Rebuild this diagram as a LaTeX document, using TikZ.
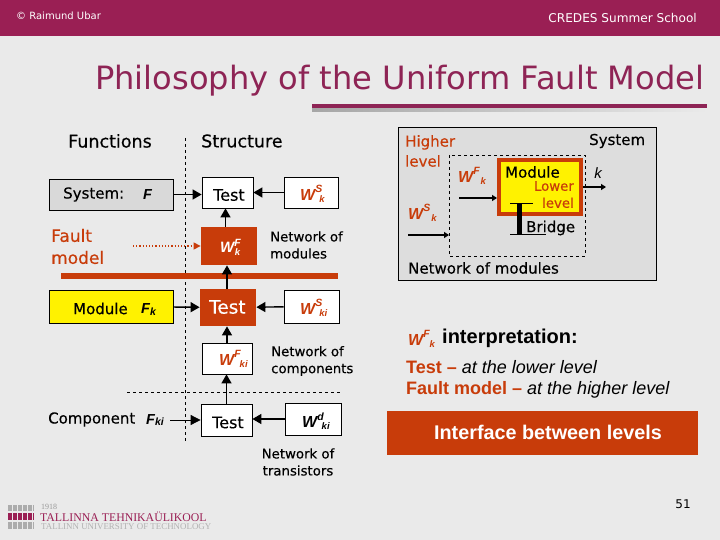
\documentclass[tikz,border=0pt]{standalone}
\usepackage{fontspec}
\setmainfont{DejaVu Sans}
\newfontfamily\ars{Liberation Sans}
\newfontfamily\srf{Liberation Serif}
\newfontfamily\djb[FakeBold=0.35]{DejaVu Sans}
\usetikzlibrary{arrows.meta,shadings}
\definecolor{bgc}{HTML}{EAEAEA}
\definecolor{plum}{HTML}{9A1F54}
\definecolor{rust}{HTML}{C83C0A}
\definecolor{titlec}{HTML}{8E2455}
\definecolor{grayf}{HTML}{D9D9D9}
\tikzset{
 box/.style={draw=black,line width=.8pt,inner sep=0pt},
 lab/.style={inner sep=0pt,anchor=west,font=\djb\fontsize{15}{17}\selectfont,text=black},
 sm/.style={inner sep=0pt,anchor=west,align=left,font=\djb\fontsize{13.3}{17}\selectfont,text=black},
 hd/.style={inner sep=0pt,anchor=west,font=\djb\fontsize{17.5}{20}\selectfont,text=black},
 arr/.style={line width=1.4pt,-{Triangle[length=9pt,width=10pt]}},
 wt/.style={inner sep=0pt,anchor=west,font=\ars\bfseries\itshape,text=rust},
 fv/.style={inner sep=0pt,anchor=west,font=\ars\bfseries\itshape\fontsize{14.5}{16}\selectfont,text=black},
 logobar/.style={fill=gray!65},
}
\newcommand{\wsym}[4]{{\fontsize{#1}{#1}\selectfont W\raisebox{.45em}{\fontsize{10.5}{10}\selectfont #2}\kern#4pt\raisebox{-.15em}{\fontsize{9.5}{9}\selectfont #3}}}
\begin{document}
\begin{tikzpicture}[x=1pt,y=-1pt]
\useasboundingbox (0,0) rectangle (720,540);
\fill[bgc] (0,0) rectangle (720,540);
\fill[plum] (0,0) rectangle (720,36);
\node[inner sep=0pt,anchor=west,text=white,font=\fontsize{10}{12}\selectfont] (au) at (16,16) {© Raimund Ubar};
\node[inner sep=0pt,anchor=east,text=white,font=\fontsize{12.1}{14}\selectfont] (cr) at (697,17.5) {CREDES Summer School};
\node[inner sep=0pt,anchor=west,text=titlec,font=\fontsize{32.1}{36}\selectfont] (title) at (95,81) {Philosophy of the Uniform Fault Model};
\shade[left color=gray!70,right color=bgc] (312,108) rectangle (707,112);
\fill[titlec] (312,104.5) rectangle (707,108);
% left labels
\node[hd] (fn) at (68,141) {Functions};
\node[hd] (st) at (201,141) {Structure};
\draw[dashed,line width=.7pt] (185.5,138) -- (185.5,443);
% row 1
\node[box,fill=grayf,minimum width=124pt,minimum height=31pt] (sys) at (111,194.5) {};
\node[lab] at (63,194.5) {System:};
\node[fv] at (143,194.5) {F};
\node[box,fill=white,minimum width=51pt,minimum height=31pt] (t1) at (227.5,192.5) {};
\node[lab,font=\djb\fontsize{16}{18}\selectfont] at (213,195) {Test};
\node[box,fill=white,minimum width=54pt,minimum height=31pt] (ws1) at (311,192.5) {};
\node[wt] at (300,194) {\wsym{16}{S}{k}{-3}};
\draw[arr] (sys.east) -- (t1.west|-sys.east);
\draw[arr] (ws1) -- (t1);
% row 2
\node[box,draw=none,fill=rust,minimum width=56pt,minimum height=38pt] (wf) at (229,246) {};
\node[wt,text=white] at (220,247) {\wsym{15}{F}{k}{-6}};
\node[inner sep=0pt,anchor=west,align=left,text=rust,font=\djb\fontsize{17}{22}\selectfont] (fm) at (51,246.5) {Fault\\model};
\coordinate (fme) at (133,246);
\draw[rust,line width=1.2pt,dotted,-{Triangle[length=7pt,width=7pt]}] (fme) -- (wf);
\node[sm] (n1) at (270,245) {Network of\\modules};
\coordinate (a5) at (225.5,227);
\draw[arr] (a5) -- (a5|-t1.south);
% bar
\fill[rust] (61,273) rectangle (338,279);
% row 3
\node[box,fill=yellow,minimum width=124pt,minimum height=33pt] (mod) at (111,306.5) {};
\node[lab] at (73,308.5) {Module};
\node[fv] at (141,309.5) {F\raisebox{-.1em}{\fontsize{10.5}{10}\selectfont k}};
\node[box,draw=none,fill=rust,minimum width=56pt,minimum height=37pt] (t2) at (228,307.5) {};
\node[lab,text=white,font=\djb\fontsize{18.5}{20}\selectfont] at (209,307) {Test};
\node[box,fill=white,minimum width=55pt,minimum height=33pt] (ws2) at (311.5,306.5) {};
\node[wt] at (300,308) {\wsym{16}{S}{ki}{-3}};
\draw[arr] (mod) -- (t2);
\draw[arr] (ws2) -- (t2);
\coordinate (a6) at (227,289);
\draw[arr] (a6) -- (a6|-wf.south);
% row 4
\node[box,fill=white,minimum width=50pt,minimum height=31pt] (wf2) at (227,358.5) {};
\node[wt] at (219,359) {\wsym{16}{F}{ki}{-1}};
\node[sm] (n2) at (271,361) {Network of\\components};
\draw[arr] (wf2.north) -- (wf2.north|-t2.south);
\coordinate (d1) at (127,392);
\coordinate (d2) at (340,392);
\draw[dashed,line width=.7pt] (d1) -- (d2);
% row 5
\node[box,fill=white,minimum width=51pt,minimum height=32pt] (t3) at (226.5,420) {};
\node[lab,font=\djb\fontsize{16}{18}\selectfont] at (212,422.5) {Test};
\node[box,fill=white,minimum width=56pt,minimum height=32pt] (wd) at (313,419) {};
\node[wt,text=black] at (302,421) {\wsym{16}{d}{ki}{-2}};
\node[lab] (cp) at (48,419.5) {Component};
\node[fv] (fki) at (146,420) {F\raisebox{-.1em}{\fontsize{10.5}{10}\selectfont ki}};
\coordinate (cpe) at (170,420);
\draw[line width=.8pt,-{Triangle[length=10pt,width=10pt]}] (cpe) -- (t3.west|-cpe);
\draw[arr] (wd.west) -- (t3.east|-wd.west);
\draw[arr] (t3.north) -- (t3.north|-wf2.south);
\node[sm,align=center,anchor=center] (n3) at (298,462) {Network of\\transistors};
% right box
\node[box,fill=grayf!75!bgc,minimum width=258pt,minimum height=153pt] (outer) at (527,203.5) {};
\node[inner sep=0pt,anchor=west,align=left,text=rust,font=\djb\fontsize{15}{20}\selectfont] (hl) at (405,151) {Higher\\level};
\node[lab] (sy) at (589,141) {System};
\draw[dashed,line width=.7pt] (449,155) rectangle (585,256);
\node[box,draw=rust,line width=4pt,fill=yellow,minimum width=82pt,minimum height=54pt] (mb) at (540,187) {};
\node[lab] (mt) at (505,172) {Module};
\node[sm,anchor=east,align=right,text=rust] (ll) at (574,194.5) {Lower\\level};
\node[wt] (wfk) at (458,176) {\wsym{16}{F}{k}{1}};
\node[wt] (wsk) at (408,213) {\wsym{16}{S}{k}{1}};
\coordinate (a1) at (459,198);
\coordinate (a2) at (408,235);
\coordinate (a3) at (449,235);
\coordinate (a4) at (606,187);
\draw[line width=1.2pt,-{Triangle[length=5pt,width=6pt]}] (a1) -- (a1-|mb.west);
\draw[line width=1.2pt,-{Triangle[length=5pt,width=6pt]}] (a2) -- (a3);
\draw[line width=1.2pt,-{Triangle[length=5pt,width=6pt]}] (mb.east|-a4) -- (a4);
\node[inner sep=0pt,font=\ars\itshape\fontsize{15}{16}\selectfont] (kk) at (598,173) {k};
\fill (516.5,203) rectangle (521.5,234);
\draw[line width=.8pt] (510,203) -- (533,203);
\draw[line width=.8pt] (510,234) -- (546,234);
\node[lab] (br) at (526,228) {Bridge};
\node[lab] (nm) at (408,268) {Network of modules};
% lower right
\node[wt] (wi) at (408,339) {\wsym{16}{F}{k}{0}};
\node[inner sep=0pt,anchor=west,text=black,font=\ars\bfseries\fontsize{20}{22}\selectfont] (wit) at (442,338) {interpretation:};
\node[inner sep=0pt,anchor=west,text=black,font=\ars\itshape\fontsize{18}{20}\selectfont] (li1) at (406,367) {\textcolor{rust}{\bfseries\upshape Test –} at the lower level};
\node[inner sep=0pt,anchor=west,text=black,font=\ars\itshape\fontsize{18}{20}\selectfont] (li2) at (406,390) {\textcolor{rust}{\bfseries\upshape Fault model –} at the higher level};
\node[fill=rust,minimum width=311pt,minimum height=44pt,inner sep=0pt] (ib) at (542.5,433) {};
\node[inner sep=0pt,text=white,font=\ars\bfseries\fontsize{19.8}{22}\selectfont] (ibt) at (548,432) {Interface between levels};
% footer
\node[inner sep=0pt,font=\fontsize{12}{14}\selectfont] (pg) at (683,504) {51};
\foreach \x in {8,13,18,23,28}{
 \fill[logobar] (\x,505) rectangle +(3.5,6);
 \fill[plum] (\x,513) rectangle +(3.5,7);
 \fill[logobar] (\x,522) rectangle +(3.5,7);
}
\fill[logobar] (33,505) rectangle +(1,6);
\fill[plum] (33,513) rectangle +(1,7);
\fill[logobar] (33,522) rectangle +(1,7);
\node[inner sep=0pt,anchor=west,text=gray!80,font=\srf\fontsize{8}{9}\selectfont] (y18) at (41,507) {1918};
\node[inner sep=0pt,anchor=west,text=plum,font=\srf\fontsize{11.8}{13}\selectfont] (t1l) at (40,517) {TALLINNA TEHNIKAÜLIKOOL};
\node[inner sep=0pt,anchor=west,text=gray!60,font=\srf\fontsize{8.9}{10}\selectfont] (t2l) at (41,527) {TALLINN UNIVERSITY OF TECHNOLOGY};
\end{tikzpicture}
\end{document}
